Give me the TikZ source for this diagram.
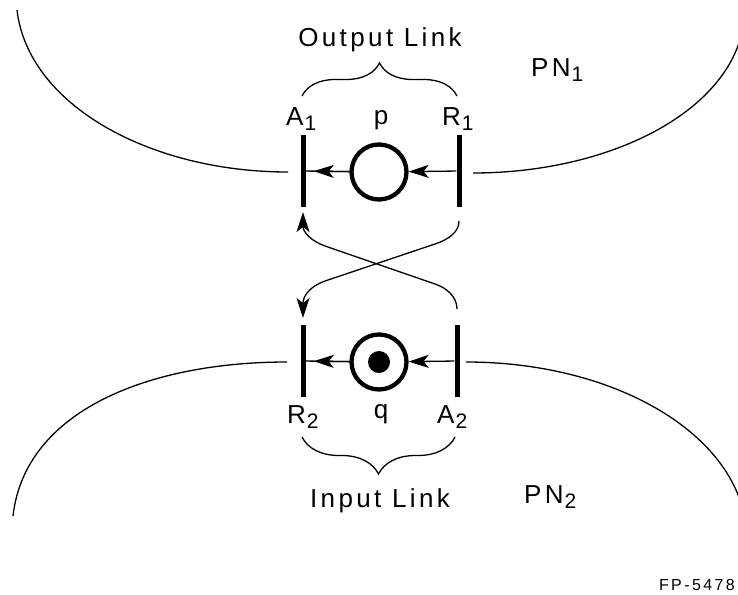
\documentclass[tikz,border=0pt]{standalone}
\usepackage{fontspec}
\setmainfont{Liberation Sans}[LetterSpace=13]
\usetikzlibrary{arrows.meta,decorations.pathreplacing}
\newcommand\lowsub[1]{\kern1pt\raisebox{-5pt}{\fontsize{21}{21}\selectfont #1}}
\begin{document}
\begin{tikzpicture}[x=1pt,y=-1pt,
  bar/.style={draw=none,fill=black,minimum width=5pt,minimum height=72pt,inner sep=0pt,rectangle},
  place/.style={circle,draw,line width=4.3pt,minimum size=55pt,inner sep=0pt},
  thinln/.style={line width=1.3pt},
  lbl/.style={font=\fontsize{26}{26}\selectfont,inner sep=0pt},
  tip/.style={-{Stealth[length=20pt,width=13pt,inset=5pt]}},
  br/.style={decorate,decoration={brace,amplitude=#1}},
]
\useasboundingbox (0,0) rectangle (738,594);

% boundaries of the nets
\coordinate (tl1) at (17,10);   \coordinate (tl2) at (288,172);
\coordinate (tr1) at (473,173); \coordinate (tr2) at (740,40);
\coordinate (bl1) at (287,362); \coordinate (bl2) at (13,516);
\coordinate (br1) at (466,362); \coordinate (br2) at (740,500);
\draw[thinln] (tl1) .. controls (28,105) and (150,172) .. (tl2);
\draw[thinln] (tr1) .. controls (600,173) and (715,120) .. (tr2);
\draw[thinln] (bl1) .. controls (150,362) and (25,410) .. (bl2);
\draw[thinln] (br1) .. controls (600,362) and (712,420) .. (br2);

% transitions
\node[bar] (A1) at (303,171) {};
\node[bar] (R1) at (459,171) {};
\node[bar] (R2) at (303,361) {};
\node[bar] (A2) at (457,361) {};

% places
\node[place] (p) at (379,172) {};
\node[place] (q) at (379,362) {};
\node[circle,fill=black,minimum size=22pt,inner sep=0pt] (tok) at (q) {};

% arcs in the links
\draw[thinln] (p) -- (A1);
\draw[thinln,tip,shorten >=8pt] (p) -- (A1);
\draw[thinln,tip] (R1) -- (p);
\draw[thinln] (q) -- (R2);
\draw[thinln,tip,shorten >=8pt] (q) -- (R2);
\draw[thinln,tip] (A2) -- (q);

% crossing arcs
\coordinate (s1) at (459,221); \coordinate (e1) at (303,318);
\coordinate (s2) at (457,309); \coordinate (e2) at (303,212);
\draw[thinln,tip] (s1) .. controls (459,233) and (447,240) .. (435,244)
  -- (325,281) .. controls (311,286) and (303,295) .. (e1);
\draw[thinln,tip] (s2) .. controls (457,297) and (447,288) .. (435,284)
  -- (325,246) .. controls (311,241) and (303,232) .. (e2);

% braces
\coordinate (ob1) at (302,96); \coordinate (ob2) at (457,96);
\coordinate (ib1) at (455,437); \coordinate (ib2) at (302,437);
\draw[thinln,br=33pt] (ob1) -- (ob2);
\draw[thinln,br=37pt] (ib1) -- (ib2);

% labels
\node[lbl,anchor=base] (out) at (380,47) {Output Link};
\node[lbl,anchor=base] (inp) at (380,507) {Input Link};
\node[lbl,anchor=base west] (lA1) at (286,125) {A\lowsub{1}};
\node[lbl,anchor=base] (lp) at (381,124) {p};
\node[lbl,anchor=base west] (lR1) at (442,125) {R\lowsub{1}};
\node[lbl,anchor=base west] (lR2) at (287,423) {R\lowsub{2}};
\node[lbl,anchor=base] (lq) at (381,418) {q};
\node[lbl,anchor=base west] (lA2) at (437,423) {A\lowsub{2}};
\node[lbl,anchor=base west] (pn1) at (531,77) {PN\lowsub{1}};
\node[lbl,anchor=base west] (pn2) at (524,503) {PN\lowsub{2}};
\node[font=\fontsize{16}{16}\selectfont\addfontfeatures{LetterSpace=15},anchor=base east,inner sep=0pt] (fp) at (735,590) {FP-5478};
\end{tikzpicture}
\end{document}
